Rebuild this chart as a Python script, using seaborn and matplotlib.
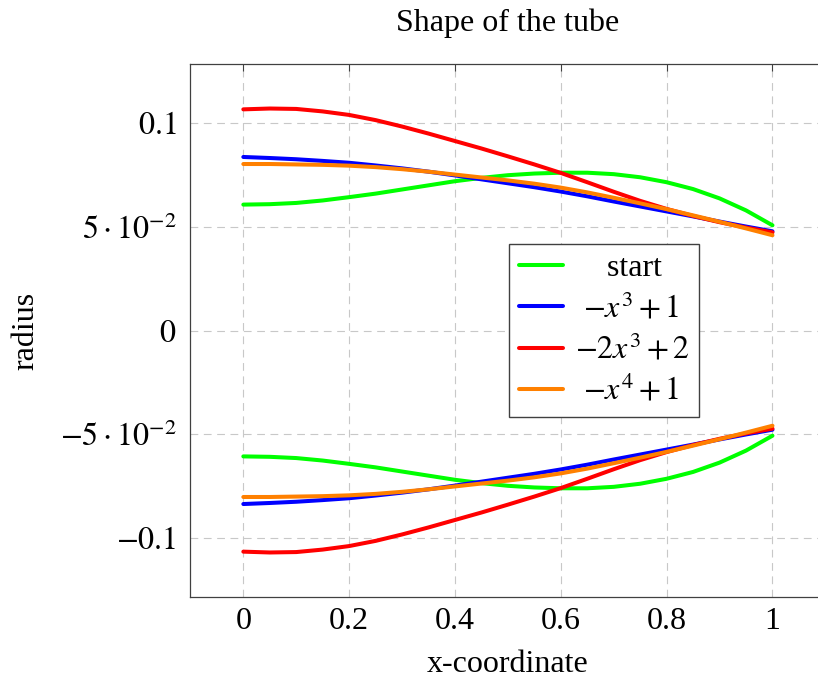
import matplotlib
matplotlib.use("Agg")
import matplotlib.pyplot as plt
import pandas as pd
import seaborn as sns

# ---------------- data ----------------
x_coord = [0.00, 0.05, 0.10, 0.15, 0.20, 0.25, 0.30, 0.35, 0.40, 0.45, 0.50,
           0.55, 0.60, 0.65, 0.70, 0.75, 0.80, 0.85, 0.90, 0.95, 1.00]

start_upper = [0.0608, 0.0610, 0.0616, 0.0628, 0.0644, 0.0661, 0.0681, 0.0701, 0.0721, 0.0737, 0.0750,
               0.0758, 0.0762, 0.0762, 0.0755, 0.0740, 0.0716, 0.0683, 0.0638, 0.0580, 0.0508]
start_lower = [-0.0608, -0.0610, -0.0616, -0.0628, -0.0644, -0.0661, -0.0681, -0.0701, -0.0721, -0.0737, -0.0750,
               -0.0758, -0.0762, -0.0762, -0.0755, -0.0740, -0.0716, -0.0683, -0.0638, -0.0580, -0.0508]

cubic_upper = [0.0838, 0.0833, 0.0827, 0.0819, 0.0810, 0.0797, 0.0783, 0.0767, 0.0749, 0.0730, 0.0711,
               0.0692, 0.0671, 0.0648, 0.0623, 0.0599, 0.0575, 0.0551, 0.0526, 0.0502, 0.0479]
cubic_lower = [-0.0838, -0.0833, -0.0827, -0.0819, -0.0810, -0.0797, -0.0783, -0.0767, -0.0749, -0.0730, -0.0711,
               -0.0692, -0.0671, -0.0648, -0.0623, -0.0599, -0.0575, -0.0551, -0.0526, -0.0502, -0.0479]

cubic2_upper = [0.1068, 0.1072, 0.1070, 0.1058, 0.1041, 0.1016, 0.0985, 0.0951, 0.0915, 0.0879, 0.0841,
                0.0802, 0.0761, 0.0716, 0.0670, 0.0626, 0.0587, 0.0553, 0.0523, 0.0497, 0.0474]
cubic2_lower = [-0.1068, -0.1072, -0.1070, -0.1058, -0.1041, -0.1016, -0.0985, -0.0951, -0.0915, -0.0879, -0.0841,
                -0.0802, -0.0761, -0.0716, -0.0670, -0.0626, -0.0587, -0.0553, -0.0523, -0.0497, -0.0474]

quartic_upper = [0.0804, 0.0804, 0.0802, 0.0800, 0.0796, 0.0789, 0.0779, 0.0767, 0.0753, 0.0739, 0.0725,
                 0.0709, 0.0690, 0.0667, 0.0641, 0.0614, 0.0586, 0.0556, 0.0525, 0.0493, 0.0460]
quartic_lower = [-0.0804, -0.0804, -0.0802, -0.0800, -0.0796, -0.0789, -0.0779, -0.0767, -0.0753, -0.0739, -0.0725,
                 -0.0709, -0.0690, -0.0667, -0.0641, -0.0614, -0.0586, -0.0556, -0.0525, -0.0493, -0.0460]

series_names = ["start", r"$-x^3+1$", r"$-2x^3+2$", r"$-x^4+1$"]
series_colors = ["#00ff00", "#0000ff", "#ff0000", "#ff8000"]
# leading padding so the legend texts look centred as in the reference
legend_labels = ["    start", r" $-x^3+1$", r"$-2x^3+2$", r" $-x^4+1$"]

x_ticks = [0, 0.2, 0.4, 0.6, 0.8, 1]
x_tick_labels = ["0", "0.2", "0.4", "0.6", "0.8", "1"]
y_ticks = [-0.1, -0.05, 0, 0.05, 0.1]
y_tick_labels = [r"$-0.1$", r"$-5\cdot10^{-2}$", r"$0$", r"$5\cdot10^{-2}$", r"$0.1$"]

title_text = "Shape of the tube"
x_label_text = "x-coordinate"
y_label_text = "radius"

# ---------------- style ----------------
FS = 23
sns.set_theme(style="white")
plt.rcParams["font.family"] = ["Liberation Serif", "DejaVu Serif"]
plt.rcParams["mathtext.fontset"] = "stix"
plt.rcParams["font.size"] = FS
plt.rcParams["axes.unicode_minus"] = True
for key in ["text.color", "axes.labelcolor", "xtick.labelcolor", "ytick.labelcolor"]:
    plt.rcParams[key] = "black"

fig = plt.figure(figsize=(8.18, 6.8), dpi=100)
ax = fig.add_axes([190.4 / 818, (680 - 597) / 680, 635 / 818, 533 / 680])

pairs = [
    (start_upper, start_lower),
    (cubic_upper, cubic_lower),
    (cubic2_upper, cubic2_lower),
    (quartic_upper, quartic_lower),
]

handles = []
for name, color, (up, lo) in zip(series_names, series_colors, pairs):
    df_up = pd.DataFrame({"x": x_coord, "r": up})
    df_lo = pd.DataFrame({"x": x_coord, "r": lo})
    sns.lineplot(data=df_up, x="x", y="r", ax=ax, color=color, linewidth=2.9,
                 estimator=None, sort=False, legend=False)
    handles.append(ax.lines[-1])
    sns.lineplot(data=df_lo, x="x", y="r", ax=ax, color=color, linewidth=2.9,
                 estimator=None, sort=False, legend=False)

for ln in ax.lines:
    ln.set_solid_joinstyle("round")

ax.set_xlim(-0.1, 1.1)
ax.set_ylim(-0.1287, 0.1287)
ax.set_xticks(x_ticks)
ax.set_xticklabels(x_tick_labels)
ax.set_yticks(y_ticks)
ax.set_yticklabels(y_tick_labels)

ax.grid(True, color="#c8c8c8", linestyle=(0, (7, 5)), linewidth=0.8)
ax.set_axisbelow(True)

for sp in ax.spines.values():
    sp.set_color("#404040")
    sp.set_linewidth(0.9)

ax.tick_params(axis="both", which="major", direction="in", length=5, width=0.8,
               color="#404040", top=True, right=True, labelsize=FS, labelcolor="black")
ax.tick_params(axis="y", pad=10)
ax.tick_params(axis="x", pad=7)

ax.set_title(title_text, fontsize=FS, pad=24, color="black")
ax.set_xlabel(x_label_text, fontsize=FS, labelpad=10, color="black")
ax.set_ylabel(y_label_text, fontsize=FS, labelpad=14, color="black")

leg = ax.legend(handles, legend_labels, loc="center left", bbox_to_anchor=(0.502, 0.5),
                frameon=True, fancybox=False, framealpha=1, edgecolor="#404040",
                handlelength=1.4, handletextpad=0.35, borderpad=0.3, labelspacing=0.3,
                fontsize=FS, borderaxespad=0)
leg.get_frame().set_linewidth(1.0)

fig.savefig("out.png", dpi=100)
